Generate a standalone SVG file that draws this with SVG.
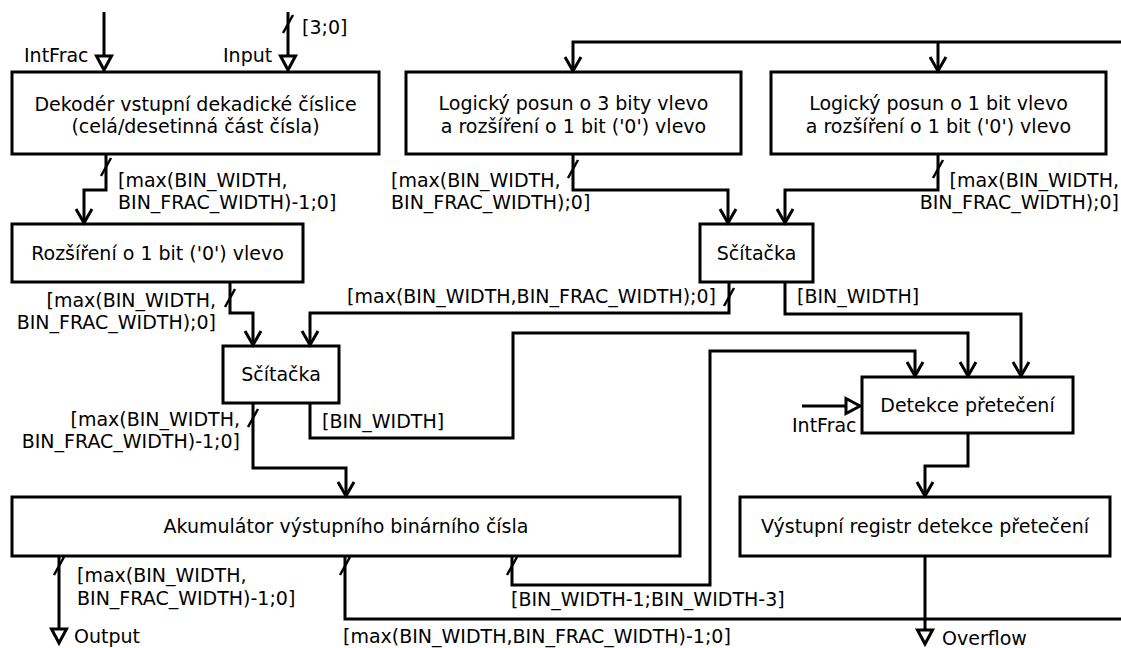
<svg xmlns="http://www.w3.org/2000/svg" width="1121" height="648" viewBox="0 0 1121 648">
  <style>
    .box { fill: #ffffff; stroke: #000000; stroke-width: 3; }
    .wire { fill: none; stroke: #000000; stroke-width: 3; }
    .tick { stroke: #000000; stroke-width: 2.5; }
    text { font-family: "DejaVu Sans", "Liberation Sans", sans-serif; font-size: 19px; fill: #000000; }
    .c { text-anchor: middle; }
    .e { text-anchor: end; }
  </style>
  <defs>
    <marker id="arrow" markerUnits="userSpaceOnUse" markerWidth="20" markerHeight="20" viewBox="-16 -10 20 20" refX="0" refY="0" orient="auto" overflow="visible">
      <path d="M-14,-8 L0,0 L-14,8" fill="none" stroke="#000000" stroke-width="3"/>
    </marker>
    <marker id="port" markerUnits="userSpaceOnUse" markerWidth="20" markerHeight="20" viewBox="-16 -10 20 20" refX="0" refY="0" orient="auto" overflow="visible">
      <path d="M-14,-7.5 L0,0 L-14,7.5 Z" fill="#ffffff" stroke="#000000" stroke-width="3" stroke-linejoin="miter"/>
    </marker>
  </defs>

  <!-- blocks -->
  <g id="decoder">
    <rect class="box" x="12" y="72" width="367" height="82"/>
    <text class="c" x="195.5" y="111">Dekodér vstupní dekadické číslice</text>
    <text class="c" x="195.5" y="133">(celá/desetinná část čísla)</text>
  </g>
  <g id="shift3">
    <rect class="box" x="406" y="72" width="335" height="82"/>
    <text class="c" x="573.5" y="110">Logický posun o 3 bity vlevo</text>
    <text class="c" x="573.5" y="133">a rozšíření o 1 bit ('0') vlevo</text>
  </g>
  <g id="shift1">
    <rect class="box" x="771" y="72" width="335" height="82"/>
    <text class="c" x="938.5" y="110">Logický posun o 1 bit vlevo</text>
    <text class="c" x="938.5" y="133">a rozšíření o 1 bit ('0') vlevo</text>
  </g>
  <g id="extend">
    <rect class="box" x="12" y="224" width="291" height="58"/>
    <text class="c" x="157.5" y="260">Rozšíření o 1 bit ('0') vlevo</text>
  </g>
  <g id="adder2">
    <rect class="box" x="700" y="224" width="113" height="58"/>
    <text class="c" x="756.5" y="260">Sčítačka</text>
  </g>
  <g id="adder1">
    <rect class="box" x="223" y="346" width="116" height="57"/>
    <text class="c" x="281" y="381">Sčítačka</text>
  </g>
  <g id="overflow-detect">
    <rect class="box" x="862" y="377" width="211" height="56"/>
    <text class="c" x="967.5" y="412">Detekce přetečení</text>
  </g>
  <g id="accumulator">
    <rect class="box" x="12" y="497" width="668" height="59"/>
    <text class="c" x="346" y="533">Akumulátor výstupního binárního čísla</text>
  </g>
  <g id="overflow-reg">
    <rect class="box" x="740" y="497" width="370" height="59"/>
    <text class="c" x="925" y="533">Výstupní registr detekce přetečení</text>
  </g>

  <!-- wiring -->
  <g id="connectors">
    <!-- external inputs -->
    <path class="wire" d="M104,12 V70" marker-end="url(#port)"/>
    <text x="24" y="62">IntFrac</text>
    <path class="wire" d="M288,12 V70" marker-end="url(#port)"/>
    <line class="tick" x1="283" y1="33" x2="293" y2="15"/>
    <text x="223" y="62">Input</text>
    <text x="302" y="34">[3;0]</text>

    <!-- decoder to extension -->
    <path class="wire" d="M106,154 V190 H84 V223" marker-end="url(#arrow)"/>
    <line class="tick" x1="101" y1="176" x2="111" y2="158"/>
    <text x="118" y="187">[max(BIN_WIDTH,</text>
    <text x="118" y="209">BIN_FRAC_WIDTH)-1;0]</text>

    <!-- extension to adder1 -->
    <path class="wire" d="M230,282 V313 H253 V345" marker-end="url(#arrow)"/>
    <line class="tick" x1="225" y1="307" x2="235" y2="289"/>
    <text class="e" x="216" y="307">[max(BIN_WIDTH,</text>
    <text class="e" x="216" y="329">BIN_FRAC_WIDTH);0]</text>

    <!-- feedback bus into shifters -->
    <path class="wire" d="M1121,42 H573 V71" marker-end="url(#arrow)"/>
    <path class="wire" d="M938,42 V71" marker-end="url(#arrow)"/>

    <!-- shifters to adder2 -->
    <path class="wire" d="M573,154 V190 H728 V223" marker-end="url(#arrow)"/>
    <line class="tick" x1="568" y1="178" x2="578" y2="160"/>
    <text x="391" y="187">[max(BIN_WIDTH,</text>
    <text x="391" y="209">BIN_FRAC_WIDTH);0]</text>
    <path class="wire" d="M938,154 V190 H785 V223" marker-end="url(#arrow)"/>
    <line class="tick" x1="933" y1="178" x2="943" y2="160"/>
    <text class="e" x="1119" y="187">[max(BIN_WIDTH,</text>
    <text class="e" x="1119" y="209">BIN_FRAC_WIDTH);0]</text>

    <!-- adder2 to adder1 and carry to detector -->
    <path class="wire" d="M729,282 V313 H310 V345" marker-end="url(#arrow)"/>
    <line class="tick" x1="724" y1="306" x2="734" y2="288"/>
    <text class="e" x="716" y="303">[max(BIN_WIDTH,BIN_FRAC_WIDTH);0]</text>
    <path class="wire" d="M785,282 V314 H1021 V376" marker-end="url(#arrow)"/>
    <text x="797" y="303">[BIN_WIDTH]</text>

    <!-- adder1 carry to detector -->
    <path class="wire" d="M310,403 V438 H513 V333 H968 V376" marker-end="url(#arrow)"/>
    <text x="322" y="428">[BIN_WIDTH]</text>

    <!-- adder1 to accumulator -->
    <path class="wire" d="M253,403 V468 H346 V496" marker-end="url(#arrow)"/>
    <line class="tick" x1="248" y1="427" x2="258" y2="409"/>
    <text class="e" x="240" y="426">[max(BIN_WIDTH,</text>
    <text class="e" x="240" y="448">BIN_FRAC_WIDTH)-1;0]</text>

    <!-- accumulator upper bits to detector -->
    <path class="wire" d="M512,556 V585 H710 V351 H915 V376" marker-end="url(#arrow)"/>
    <line class="tick" x1="507" y1="575" x2="517" y2="557"/>
    <text x="511" y="606">[BIN_WIDTH-1;BIN_WIDTH-3]</text>

    <!-- accumulator feedback bus -->
    <path class="wire" d="M345,556 V619 H1121"/>
    <line class="tick" x1="340" y1="575" x2="350" y2="557"/>
    <text x="343" y="643">[max(BIN_WIDTH,BIN_FRAC_WIDTH)-1;0]</text>

    <!-- accumulator output -->
    <path class="wire" d="M59,556 V643" marker-end="url(#port)"/>
    <line class="tick" x1="54" y1="575" x2="64" y2="557"/>
    <text x="77" y="582">[max(BIN_WIDTH,</text>
    <text x="77" y="605">BIN_FRAC_WIDTH)-1;0]</text>
    <text x="74" y="643">Output</text>

    <!-- IntFrac into detector -->
    <path class="wire" d="M802,406 H860" marker-end="url(#port)"/>
    <text x="792" y="432">IntFrac</text>

    <!-- detector to register, register output -->
    <path class="wire" d="M968,433 V466 H925 V496" marker-end="url(#arrow)"/>
    <path class="wire" d="M925,556 V644" marker-end="url(#port)"/>
    <text x="942" y="645">Overflow</text>
  </g>
</svg>
